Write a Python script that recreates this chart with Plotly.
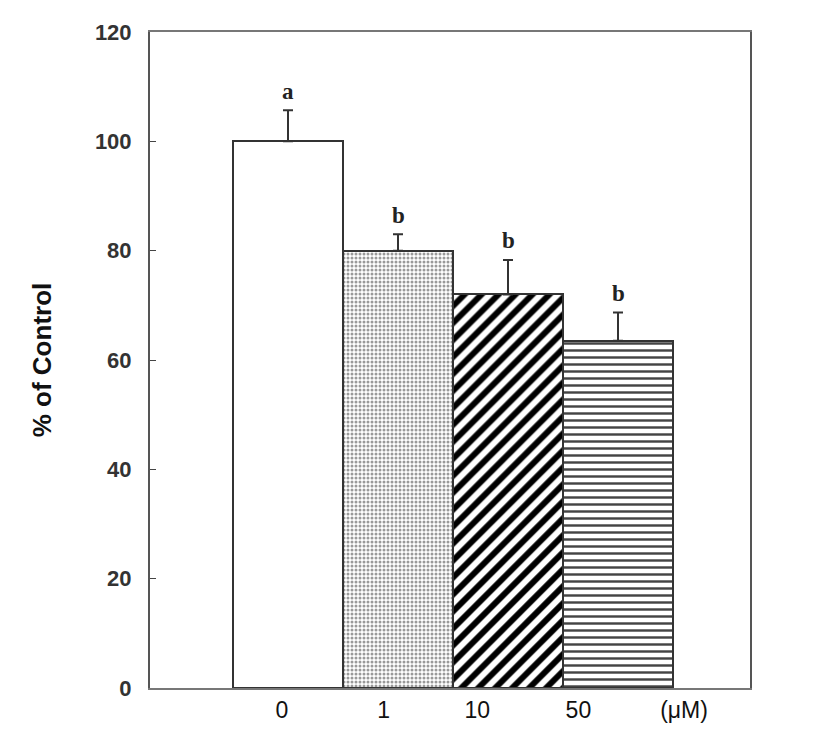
import plotly.graph_objects as go

categories = ["0", "1", "10", "50"]
values = [100, 80, 72, 63.5]
errors = [5.7, 3.0, 6.3, 5.2]
letters = ["a", "b", "b", "b"]
patterns = ["", ".", "/", "-"]
tick_labels = ["0", "1", "10", "50", "(μM)"]
tick_positions = [-0.055, 0.87, 1.72, 2.64, 3.6]
y_ticks = [0, 20, 40, 60, 80, 100, 120]

xpos = list(range(len(categories)))
pat_size = {"": 8, ".": 4, "/": 12, "-": 7}
pat_sol = {"": 0.3, ".": 0.45, "/": 0.5, "-": 0.35}
pat_col = {"": "#000000", ".": "#999999", "/": "#000000", "-": "#444444"}

fig = go.Figure()
for i, (c, v, e, p) in enumerate(zip(categories, values, errors, patterns)):
    fig.add_trace(go.Bar(
        x=[xpos[i]], y=[v], width=1.0,
        marker=dict(color="white",
                    line=dict(color="#333333", width=2),
                    pattern=dict(shape=p, fgcolor=pat_col[p], bgcolor="white", fgopacity=1,
                                 size=pat_size[p], solidity=pat_sol[p])),
        error_y=dict(type="data", symmetric=False, array=[e], arrayminus=[0],
                     color="#333333", thickness=2, width=5),
        showlegend=False,
    ))
    fig.add_annotation(x=xpos[i], y=v + e, text="<b>%s</b>" % letters[i], showarrow=False,
                       yshift=19, font=dict(family="Liberation Serif", size=23, color="#222222"))

fig.update_layout(
    width=827, height=743,
    margin=dict(l=142, r=85, t=24, b=63),
    plot_bgcolor="white", paper_bgcolor="white",
    bargap=0,
)
fig.update_xaxes(
    range=[-1.2545, 4.2], tickvals=tick_positions, ticktext=tick_labels,
    ticks="", showline=True, linecolor="#777777", linewidth=2, mirror=True,
    showgrid=False, zeroline=False,
    tickfont=dict(family="Liberation Sans", size=23, color="#111111"),
)
fig.update_yaxes(
    range=[0, 120], tickvals=y_ticks, ticks="inside", ticklen=6, tickcolor="#444444",
    showline=True, linecolor="#555555", linewidth=2, mirror=True,
    showgrid=False, zeroline=False, ticklabelstandoff=12,
    tickfont=dict(family="Liberation Sans", size=22, color="#333333", weight="bold"),
    title=dict(text="<b>% of Control</b>", standoff=36,
               font=dict(family="Liberation Sans", size=26, color="#111111")),
)
fig.write_html("out.html")
